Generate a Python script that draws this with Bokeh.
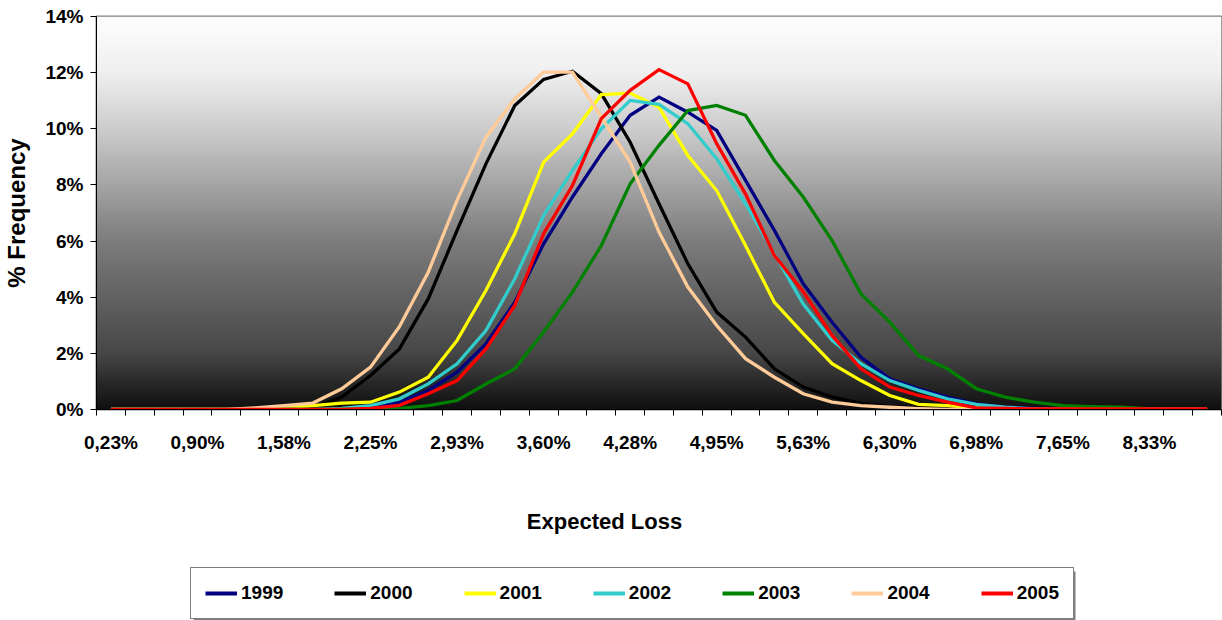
import numpy as np
from bokeh.plotting import figure
from bokeh.layouts import column
from bokeh.models import FixedTicker, Legend, LegendItem, Label, Range1d
from bokeh.embed import file_html
from bokeh.resources import INLINE

# ---- data -------------------------------------------------------------
categories = ["0,23%", "0,45%", "0,68%", "0,90%", "1,13%", "1,35%", "1,58%", "1,80%",
              "2,03%", "2,25%", "2,48%", "2,70%", "2,93%", "3,15%", "3,38%", "3,60%",
              "3,83%", "4,05%", "4,28%", "4,50%", "4,73%", "4,95%", "5,18%", "5,40%",
              "5,63%", "5,85%", "6,08%", "6,30%", "6,53%", "6,75%", "6,98%", "7,20%",
              "7,43%", "7,65%", "7,88%", "8,10%", "8,33%", "8,55%", "8,78%"]
shown_label_idx = [0, 3, 6, 9, 12, 15, 18, 21, 24, 27, 30, 33, 36]

y_ticks = [0, 2, 4, 6, 8, 10, 12, 14]
y_tick_labels = ["0%", "2%", "4%", "6%", "8%", "10%", "12%", "14%"]

s1999 = [0, 0, 0, 0, 0, 0, 0, 0, 0.02, 0.08, 0.26, 0.68, 1.33, 2.34, 3.82, 5.90,
         7.57, 9.11, 10.48, 11.13, 10.59, 9.94, 8.16, 6.38, 4.48, 3.11, 1.86, 1.09,
         0.74, 0.44, 0.20, 0.08, 0.04, 0.02, 0.01, 0, 0, 0, 0]
s2000 = [0, 0, 0, 0, 0, 0, 0, 0.06, 0.44, 1.21, 2.16, 3.94, 6.38, 8.75, 10.83, 11.76,
         12.05, 11.25, 9.52, 7.33, 5.19, 3.47, 2.58, 1.45, 0.80, 0.44, 0.23, 0.10,
         0.06, 0.02, 0, 0, 0, 0, 0, 0, 0, 0, 0]
s2001 = [0, 0, 0, 0, 0, 0, 0.06, 0.14, 0.23, 0.26, 0.62, 1.15, 2.46, 4.24, 6.26, 8.81,
         9.82, 11.22, 11.27, 10.77, 9.05, 7.80, 5.84, 3.82, 2.70, 1.63, 1.03, 0.50,
         0.18, 0.14, 0.06, 0, 0, 0, 0, 0, 0, 0, 0]
s2002 = [0, 0, 0, 0, 0, 0, 0, 0, 0.04, 0.14, 0.38, 0.91, 1.63, 2.81, 4.66, 6.91,
         8.52, 10.00, 11.01, 10.87, 10.18, 8.93, 7.33, 5.55, 3.76, 2.46, 1.63, 1.03,
         0.68, 0.38, 0.18, 0.08, 0.02, 0, 0, 0, 0, 0, 0]
s2003 = [0, 0, 0, 0, 0, 0, 0, 0, 0, 0, 0.04, 0.14, 0.32, 0.91, 1.45, 2.76,
         4.18, 5.84, 8.04, 9.41, 10.65, 10.83, 10.48, 8.87, 7.57, 6.02, 4.12, 3.11,
         1.92, 1.45, 0.74, 0.44, 0.26, 0.14, 0.10, 0.08, 0.02, 0, 0]
s2004 = [0, 0, 0, 0, 0, 0.06, 0.14, 0.23, 0.74, 1.51, 2.95, 4.89, 7.45, 9.70, 11.07, 12.02,
         12.02, 10.42, 8.81, 6.32, 4.36, 2.99, 1.81, 1.15, 0.56, 0.26, 0.14, 0.08,
         0.03, 0, 0, 0, 0, 0, 0, 0, 0, 0, 0]
s2005 = [0, 0, 0, 0, 0, 0, 0, 0, 0, 0.04, 0.15, 0.56, 1.03, 2.16, 3.71, 6.26,
         7.98, 10.36, 11.37, 12.11, 11.60, 9.47, 7.68, 5.49, 4.20, 2.64, 1.45, 0.80,
         0.50, 0.26, 0.06, 0.04, 0.02, 0.02, 0.02, 0.02, 0.02, 0.02, 0.02]

series_names = ["1999", "2000", "2001", "2002", "2003", "2004", "2005"]
series_values = [s1999, s2000, s2001, s2002, s2003, s2004, s2005]
series_colors = ["#000080", "#000000", "#FFFF00", "#33CCCC", "#008000", "#FFCC99", "#FF0000"]

x_title = "Expected Loss"
y_title = "% Frequency"

# ---- main chart ---------------------------------------------------------
FONT = "Liberation Sans"
LEFT, FRAME_W, RIGHT = 96, 1125, 1
TOP, FRAME_H, BOTTOM = 16, 393, 45

n = len(categories)
xs = list(range(n))

p = figure(frame_width=FRAME_W, frame_height=FRAME_H,
           min_border_left=LEFT, min_border_right=RIGHT,
           min_border_top=TOP, min_border_bottom=BOTTOM,
           x_range=Range1d(-0.5, n - 0.5), y_range=Range1d(0, 14),
           output_backend="svg", toolbar_location=None,
           background_fill_color="white", border_fill_color="white")

# vertical white-to-black gradient of the plot area
ctrl_t = [0.0, 0.05, 0.145, 0.43, 0.715, 0.86, 1.0]      # fraction from bottom
ctrl_g = [15, 35, 72, 125, 205, 240, 253]
rows = 400
t = np.linspace(0, 1, rows)
g = np.interp(t, ctrl_t, ctrl_g).astype(np.uint8)
img = np.zeros((rows, 2), dtype=np.uint32)
view = img.view(dtype=np.uint8).reshape((rows, 2, 4))
view[:, :, 0] = g[:, None]
view[:, :, 1] = g[:, None]
view[:, :, 2] = g[:, None]
view[:, :, 3] = 255
p.image_rgba(image=[img], x=-0.5, y=0, dw=n, dh=14)

for name, vals, col in zip(series_names, series_values, series_colors):
    p.line(xs, vals, line_color=col, line_width=3.3, line_join="miter")

p.grid.visible = False
p.outline_line_color = "#808080"
p.outline_line_width = 2

xa = p.xaxis[0]
xa.ticker = FixedTicker(ticks=shown_label_idx,
                        minor_ticks=[k - 0.5 for k in range(n + 1)])
xa.major_label_overrides = {i: categories[i] for i in shown_label_idx}
xa.major_tick_out = 0
xa.major_tick_in = 0
xa.minor_tick_out = 6
xa.minor_tick_in = 0
xa.minor_tick_line_color = "black"
xa.axis_line_color = "black"
xa.axis_line_width = 1
xa.major_label_standoff = 16
xa.major_label_text_font = FONT
xa.major_label_text_font_style = "bold"
xa.major_label_text_font_size = "19px"
xa.major_label_text_color = "black"

ya = p.yaxis[0]
ya.ticker = FixedTicker(ticks=y_ticks, minor_ticks=[])
ya.major_label_overrides = {v: s for v, s in zip(y_ticks, y_tick_labels)}
ya.major_tick_out = 6
ya.major_tick_in = 0
ya.minor_tick_out = 0
ya.minor_tick_in = 0
ya.axis_line_color = "black"
ya.axis_line_width = 1
ya.major_label_standoff = 7
ya.major_label_text_font = FONT
ya.major_label_text_font_style = "bold"
ya.major_label_text_font_size = "19px"
ya.major_label_text_color = "black"
ya.axis_label = y_title
ya.axis_label_text_font = FONT
ya.axis_label_text_font_style = "bold"
ya.axis_label_text_font_size = "24px"
ya.axis_label_text_color = "black"
ya.axis_label_standoff = 12

# ---- lower strip: x-axis title and legend ------------------------------
# its data coordinates are page pixels: x from the left edge, y up from the bottom
H2 = 620 - (TOP + FRAME_H + BOTTOM)
p2 = figure(frame_width=FRAME_W, frame_height=H2,
            min_border_left=LEFT, min_border_right=RIGHT,
            min_border_top=0, min_border_bottom=0,
            x_range=Range1d(LEFT, LEFT + FRAME_W), y_range=Range1d(0, H2),
            x_axis_location=None, y_axis_location=None,
            output_backend="svg", toolbar_location=None,
            background_fill_color="white", border_fill_color="white")
p2.grid.visible = False
p2.outline_line_color = None

p2.add_layout(Label(x=604, y=100, text=x_title,
                    text_align="center", text_baseline="middle",
                    text_font=FONT, text_font_style="bold", text_font_size="22px",
                    text_color="black"))

# legend shadow
p2.quad(left=[193], right=[1075], bottom=[-1], top=[50],
        fill_color="#7f7f7f", line_color=None)

legend_renderers = [p2.line([-50, -40], [-50, -50], line_color=col, line_width=4)
                    for col in series_colors]
legend = Legend(items=[LegendItem(label=nm, renderers=[r])
                       for nm, r in zip(series_names, legend_renderers)],
                orientation="horizontal", location=(190 - LEFT, 2),
                glyph_width=32, glyph_height=20, label_standoff=4, spacing=51,
                padding=14, margin=0,
                border_line_color="black", border_line_width=1,
                background_fill_color="white", background_fill_alpha=1,
                label_text_font=FONT, label_text_font_style="bold",
                label_text_font_size="19px", label_text_color="black")
p2.add_layout(legend)

layout = column(p, p2, spacing=0)
open("out.html", "w").write(file_html(layout, INLINE))
